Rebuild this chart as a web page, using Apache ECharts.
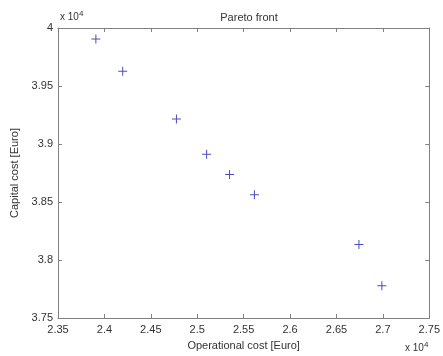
<!DOCTYPE html>
<html>
<head>
<meta charset="utf-8">
<script src="https://cdn.jsdelivr.net/npm/echarts@6/dist/echarts.min.js"></script>
<style>
  html, body { margin: 0; padding: 0; background: #fff; }
  #chart { width: 443px; height: 356px; }
</style>
</head>
<body>
<div id="chart"></div>
<script>
// operational cost [Euro] vs capital cost [Euro]
const operationalCost = [23908, 24197, 24776, 25101, 25348, 25616, 26742, 26989]
const capitalCost = [39906, 39628, 39216, 38912, 38737, 38563, 38133, 37778]
const xTicks = [23500, 27500, 500] // min, max, step
const yTicks = [37500, 40000, 500]

const FONT = 'Liberation Sans'
const AXIS = '#808080'
const TXT = '#333'

// matlab-like "+" marker
const plus = 'path://M4,0H5V4H9V5H5V9H4V5H0V4H4Z'

const fmt = (v) => String(+(v / 1e4).toFixed(2))

const chart = echarts.init(document.getElementById('chart'))

const baseAxis = {
  splitLine: { show: false },
  axisLine: { lineStyle: { color: AXIS, width: 1 } },
  axisTick: { inside: true, length: 4, lineStyle: { color: AXIS } },
}

const option = {
  animation: false,
  backgroundColor: '#fff',
  textStyle: { fontFamily: FONT },
  title: {
    text: 'Pareto front',
    left: 244,
    top: 7,
    textAlign: 'center',
    textStyle: { fontFamily: FONT, fontSize: 11, fontWeight: 'normal', color: TXT },
  },
  grid: { left: 58, right: 12, top: 28, bottom: 37 },
  xAxis: [
    {
      ...baseAxis,
      type: 'value',
      min: xTicks[0], max: xTicks[1], interval: xTicks[2],
      axisLabel: { color: TXT, fontSize: 11, fontFamily: FONT, margin: 6, formatter: fmt },
      name: 'Operational cost [Euro]',
      nameLocation: 'middle',
      nameGap: 22,
      nameTextStyle: { color: TXT, fontSize: 11, fontFamily: FONT },
    },
    {
      ...baseAxis,
      type: 'value', position: 'top',
      min: xTicks[0], max: xTicks[1], interval: xTicks[2],
      axisLabel: { show: false },
    },
  ],
  yAxis: [
    {
      ...baseAxis,
      type: 'value',
      min: yTicks[0], max: yTicks[1], interval: yTicks[2],
      axisLabel: { color: TXT, fontSize: 11, fontFamily: FONT, margin: 5, formatter: fmt },
      name: 'Capital cost [Euro]',
      nameLocation: 'middle',
      nameGap: 33,
      nameTextStyle: { color: TXT, fontSize: 11, fontFamily: FONT },
    },
    {
      ...baseAxis,
      type: 'value', position: 'right',
      min: yTicks[0], max: yTicks[1], interval: yTicks[2],
      axisLabel: { show: false },
    },
  ],
  graphic: [
    {
      type: 'text', left: 60, top: 10,
      style: {
        text: 'x 10{s|4}',
        font: '10px ' + FONT,
        fill: TXT,
        rich: { s: { fontSize: 8, verticalAlign: 'top', padding: [0, 0, 6, 0] } },
      },
    },
    {
      type: 'text', left: 405, top: 341,
      style: {
        text: 'x 10{s|4}',
        font: '10px ' + FONT,
        fill: TXT,
        rich: { s: { fontSize: 8, verticalAlign: 'top', padding: [0, 0, 6, 0] } },
      },
    },
  ],
  series: [
    {
      type: 'scatter',
      symbol: plus,
      symbolSize: 9,
      itemStyle: { color: '#1f1fb0' },
      data: operationalCost.map((x, i) => [x, capitalCost[i]]),
    },
  ],
}

chart.setOption(option)
</script>
</body>
</html>
